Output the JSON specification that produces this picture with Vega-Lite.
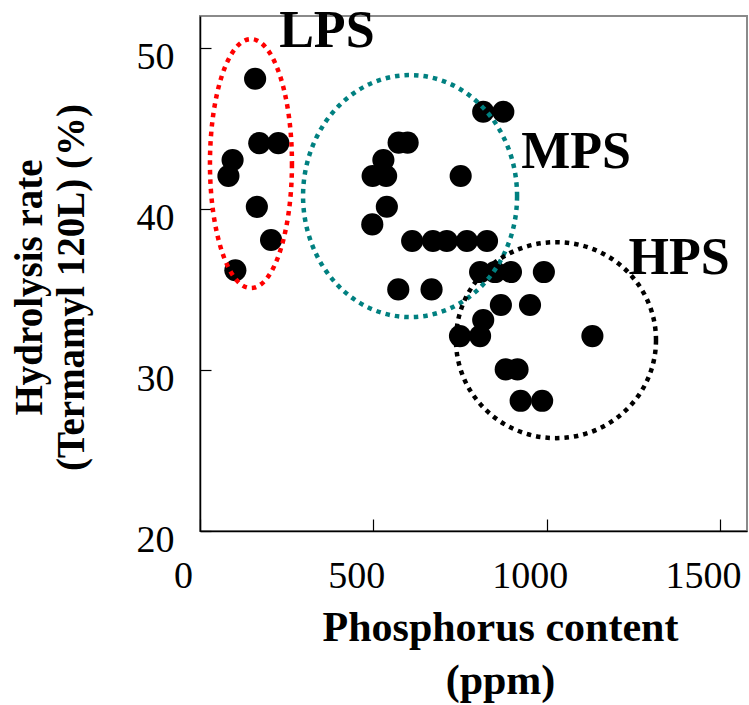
{
  "$schema": "https://vega.github.io/schema/vega-lite/v6.json",
  "width": 547,
  "height": 515,
  "autosize": {"type": "none"},
  "padding": {"left": 200, "top": 16, "right": 2, "bottom": 174},
  "background": "white",
  "config": {
    "view": {"stroke": "#8a8a8a", "strokeWidth": 2},
    "font": "Liberation Serif"
  },
  "encoding": {
    "x": {
      "field": "p",
      "type": "quantitative",
      "scale": {"domain": [0, 1578], "nice": false, "zero": false},
      "axis": {
        "title": ["Phosphorus content", "(ppm)"],
        "values": [0, 500, 1000, 1500],
        "format": "d",
        "grid": false,
        "domainColor": "black",
        "domainWidth": 1.5,
        "tickColor": "black",
        "tickWidth": 1.2,
        "tickSize": -12,
        "labelFont": "Liberation Serif",
        "labelFontSize": 38,
        "labelColor": "black",
        "labelOffset": -17,
        "labelBaseline": "middle",
        "labelPadding": 57,
        "labelFlush": false,
        "labelOverlap": false,
        "titleFont": "Liberation Serif",
        "titleFontSize": 42,
        "titleFontWeight": "bold",
        "titleColor": "black",
        "titleX": 300,
        "titleY": 109,
        "titleAlign": "center",
        "titleBaseline": "alphabetic",
        "titleLineHeight": 53
      }
    },
    "y": {
      "field": "h",
      "type": "quantitative",
      "scale": {"domain": [20, 52], "nice": false, "zero": false},
      "axis": {
        "title": ["Hydrolysis rate", "(Termamyl 120L) (%)"],
        "values": [20, 30, 40, 50],
        "format": "d",
        "grid": false,
        "domainColor": "black",
        "domainWidth": 1.5,
        "tickColor": "black",
        "tickWidth": 1.2,
        "tickSize": -11,
        "labelFont": "Liberation Serif",
        "labelFontSize": 38,
        "labelColor": "black",
        "labelOffset": 9,
        "labelAlign": "right",
        "labelBaseline": "middle",
        "labelPadding": 37,
        "labelFlush": false,
        "labelOverlap": false,
        "titleFont": "Liberation Serif",
        "titleFontSize": 39,
        "titleFontWeight": "bold",
        "titleColor": "black",
        "titleX": -159,
        "titleY": 271,
        "titleAlign": "center",
        "titleBaseline": "alphabetic",
        "titleLineHeight": 42.5
      }
    }
  },
  "layer": [
    {
      "data": {
        "values": [
          {"group": "LPS", "p": 159, "h": 48.1},
          {"group": "LPS", "p": 171, "h": 44.1},
          {"group": "LPS", "p": 226, "h": 44.1},
          {"group": "LPS", "p": 94, "h": 43.05},
          {"group": "LPS", "p": 82, "h": 42.06},
          {"group": "LPS", "p": 164, "h": 40.14},
          {"group": "LPS", "p": 205, "h": 38.08},
          {"group": "LPS", "p": 102, "h": 36.2},
          {"group": "MPS", "p": 817, "h": 46.05},
          {"group": "MPS", "p": 875, "h": 46.05},
          {"group": "MPS", "p": 573, "h": 44.13},
          {"group": "MPS", "p": 599, "h": 44.13},
          {"group": "MPS", "p": 529, "h": 43.05},
          {"group": "MPS", "p": 498, "h": 42.06},
          {"group": "MPS", "p": 537, "h": 42.06},
          {"group": "MPS", "p": 752, "h": 42.06},
          {"group": "MPS", "p": 539, "h": 40.15},
          {"group": "MPS", "p": 497, "h": 39.05},
          {"group": "MPS", "p": 612, "h": 38.02},
          {"group": "MPS", "p": 672, "h": 38.02},
          {"group": "MPS", "p": 712, "h": 38.02},
          {"group": "MPS", "p": 770, "h": 38.02},
          {"group": "MPS", "p": 828, "h": 38.02},
          {"group": "MPS", "p": 572, "h": 35.01},
          {"group": "MPS", "p": 668, "h": 35.01},
          {"group": "HPS", "p": 808, "h": 36.09},
          {"group": "HPS", "p": 851, "h": 36.09},
          {"group": "HPS", "p": 897, "h": 36.09},
          {"group": "HPS", "p": 992, "h": 36.09},
          {"group": "HPS", "p": 868, "h": 34.04},
          {"group": "HPS", "p": 952, "h": 34.04},
          {"group": "HPS", "p": 817, "h": 33.11},
          {"group": "HPS", "p": 750, "h": 32.11},
          {"group": "HPS", "p": 808, "h": 32.11},
          {"group": "HPS", "p": 1132, "h": 32.11},
          {"group": "HPS", "p": 882, "h": 30.04},
          {"group": "HPS", "p": 916, "h": 30.04},
          {"group": "HPS", "p": 925, "h": 28.09},
          {"group": "HPS", "p": 987, "h": 28.09}
        ]
      },
      "mark": {"type": "circle", "size": 490, "color": "black", "opacity": 1}
    },
    {
      "data": {
        "values": [
          {"cluster": "LPS", "p": 147, "h": 42.83},
          {"cluster": "MPS", "p": 606, "h": 40.81},
          {"cluster": "HPS", "p": 1027, "h": 31.86}
        ]
      },
      "mark": {
        "type": "point",
        "filled": false,
        "size": 62500,
        "strokeWidth": 4.5,
        "strokeDash": [4.5, 5],
        "strokeCap": "butt",
        "opacity": 1
      },
      "encoding": {
        "shape": {
          "field": "cluster",
          "type": "nominal",
          "legend": null,
          "scale": {
            "domain": ["LPS", "MPS", "HPS"],
            "range": [
              "M 0.328 0 C 0.328 0.5501 0.1812 0.996 0 0.996 C -0.1812 0.996 -0.328 0.5501 -0.328 0 C -0.328 -0.5501 -0.1812 -0.996 0 -0.996 C 0.1812 -0.996 0.328 -0.5501 0.328 0 Z",
              "M 0.856 0 C 0.856 0.5346 0.4728 0.968 0 0.968 C -0.4728 0.968 -0.856 0.5346 -0.856 0 C -0.856 -0.5346 -0.4728 -0.968 0 -0.968 C 0.4728 -0.968 0.856 -0.5346 0.856 0 Z",
              "M 0.8 0 C 0.8 0.433 0.4418 0.784 0 0.784 C -0.4418 0.784 -0.8 0.433 -0.8 0 C -0.8 -0.433 -0.4418 -0.784 0 -0.784 C 0.4418 -0.784 0.8 -0.433 0.8 0 Z"
            ]
          }
        },
        "stroke": {
          "field": "cluster",
          "type": "nominal",
          "legend": null,
          "scale": {
            "domain": ["LPS", "MPS", "HPS"],
            "range": ["#ff0000", "#008080", "#000000"]
          }
        }
      }
    },
    {
      "data": {
        "values": [
          {"label": "LPS", "p": 366, "h": 50.07},
          {"label": "MPS", "p": 1085, "h": 42.53},
          {"label": "HPS", "p": 1382, "h": 35.95}
        ]
      },
      "mark": {
        "type": "text",
        "font": "Liberation Serif",
        "fontWeight": "bold",
        "fontSize": 52,
        "align": "center",
        "baseline": "alphabetic",
        "color": "black"
      },
      "encoding": {
        "text": {"field": "label", "type": "nominal"}
      }
    }
  ]
}
